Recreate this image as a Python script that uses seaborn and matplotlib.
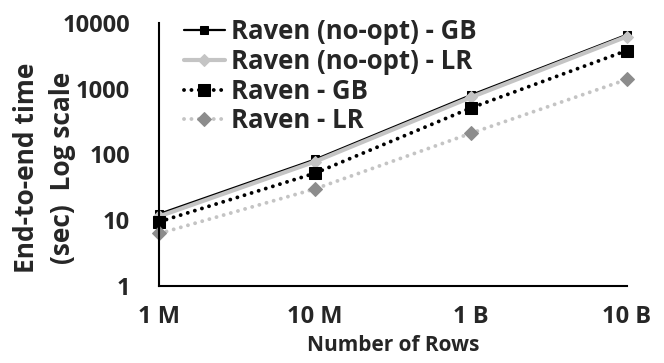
import matplotlib
matplotlib.use("Agg")
import matplotlib.pyplot as plt
import seaborn as sns
import pandas as pd

# data
rows = ["1 M", "10 M", "1 B", "10 B"]
noopt_gb = [12.5, 84, 800, 6600]
noopt_lr = [11.5, 78, 740, 6200]
raven_gb = [9.5, 52, 510, 3800]
raven_lr = [6.3, 30, 210, 1380]

sns.set_style("white")
plt.rcParams["font.family"] = ["Open Sans", "DejaVu Sans"]
plt.rcParams["font.weight"] = "bold"

fig, ax = plt.subplots(figsize=(6.64, 3.63), dpi=100)
fig.subplots_adjust(left=0.24, right=0.944, top=0.937, bottom=0.212)

df = pd.DataFrame({"rows": rows, "noopt_gb": noopt_gb, "noopt_lr": noopt_lr,
                   "raven_gb": raven_gb, "raven_lr": raven_lr})
df["pos"] = range(len(rows))

dots = (0, (0.01, 1.9))
# estilo de cada serie
series = [
    ("noopt_gb", "Raven (no-opt) - GB", dict(color="black", lw=1.6, ls="-", marker="s",
                                             ms=6, mfc="black", mec="black")),
    ("noopt_lr", "Raven (no-opt) - LR", dict(color="#c4c4c4", lw=3, ls="-", marker="D",
                                             ms=6, mfc="#c4c4c4", mec="#c4c4c4")),
    ("raven_gb", "Raven - GB", dict(color="black", lw=2.8, ls=dots, marker="s",
                                    ms=9, mfc="black", mec="black", dash_capstyle="round")),
    ("raven_lr", "Raven - LR", dict(color="#c4c4c4", lw=2.8, ls=dots, marker="D",
                                    ms=7, mfc="#8c8c8c", mec="#8c8c8c", dash_capstyle="round")),
]

for col, label, kw in series:
    sns.lineplot(data=df, x="pos", y=col, ax=ax, label=label, **kw)

ax.set_yscale("log")
ax.set_ylim(1, 10000)
ax.set_xlim(0, len(rows) - 1)
ax.set_yticks([1, 10, 100, 1000, 10000])
ax.set_yticklabels(["1", "10", "100", "1000", "10000"])
ax.minorticks_off()
ax.set_xticks(df["pos"])
ax.set_xticklabels(rows)

ax.tick_params(axis="both", direction="in", length=7, width=1.5, color="black",
               labelsize=17)
ax.tick_params(axis="y", pad=21)
ax.tick_params(axis="x", pad=14)
for lab in ax.get_xticklabels() + ax.get_yticklabels():
    lab.set_fontweight("bold")

sns.despine(ax=ax)
for s in ["left", "bottom"]:
    ax.spines[s].set_color("black")
    ax.spines[s].set_linewidth(1.5)
for line in ax.get_lines():
    line.set_clip_on(False)

ax.set_xlabel("Number of Rows", fontsize=15, fontweight="bold", labelpad=4)
ax.set_ylabel("End-to-end time\n(sec)  Log scale", fontsize=19, fontweight="bold",
              linespacing=1.45)
ax.yaxis.set_label_coords(-0.178, 0.45)

ax.legend(loc="upper left", bbox_to_anchor=(0.03, 1.056), frameon=False,
          prop={"size": 18.5, "weight": "bold"}, handlelength=1.6, handletextpad=0.25,
          labelspacing=0.1, borderaxespad=0)

fig.savefig("out.png", dpi=100)
